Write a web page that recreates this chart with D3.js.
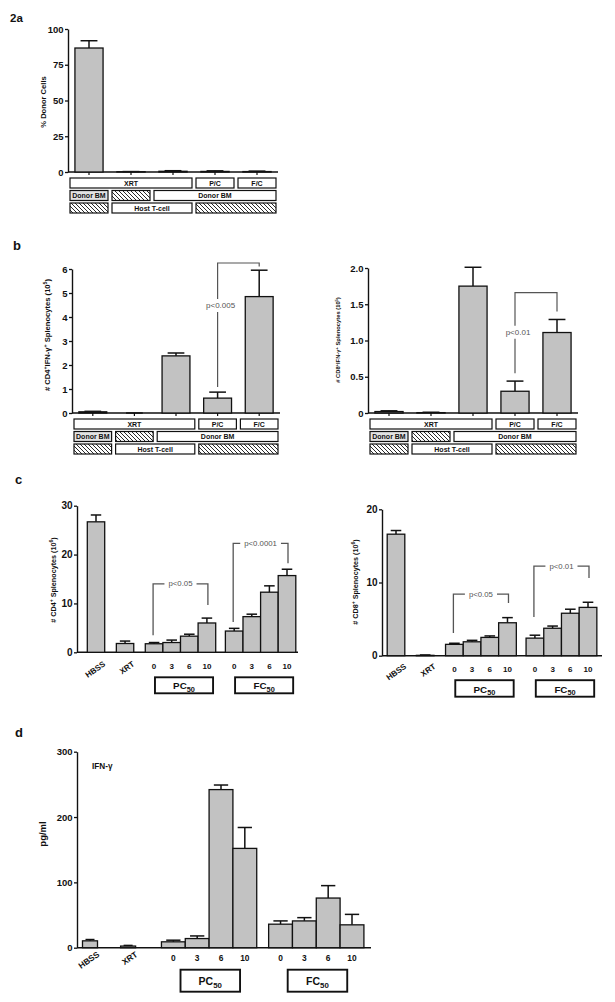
<!DOCTYPE html>
<html>
<head>
<meta charset="utf-8">
<script src="https://cdn.jsdelivr.net/npm/d3@7"></script>
<style>
  body { margin: 0; background: #fff; }
  svg text { font-family: "Liberation Sans", Arial, Helvetica, sans-serif; }
</style>
</head>
<body>
<svg width="615" height="1002"></svg>
<script>
// ---- data ----

// panel 2a : % donor cells
const aDonor = [86.7, 0.2, 0.5, 0.4, 0.3];
const aDonorErr = [91.8, 0.3, 0.9, 0.8, 0.6];
const aTicks = [0, 25, 50, 75, 100];

// panel b : IFN-g+ splenocytes (10^5)
const bCD4 = [0.05, 0, 2.38, 0.62, 4.85];
const bCD4Err = [0.07, 0, 2.5, 0.87, 5.95];
const bCD4Ticks = [0, 1, 2, 3, 4, 5, 6];
const bCD8 = [0.02, 0.005, 1.75, 0.30, 1.11];
const bCD8Err = [0.03, 0.01, 2.01, 0.44, 1.29];
const bCD8Ticks = [0, 0.5, 1, 1.5, 2];

// treatment label rows under a / b : [first group, last group, text, kind]
const rowTreat = [[0, 2, "XRT", "box"], [3, 3, "P/C", "box"], [4, 4, "F/C", "box"]];
const rowMarrow = [[0, 0, "Donor BM", "grey"], [1, 1, "", "hatch"], [2, 4, "Donor BM", "box"]];
const rowTcell = [[0, 0, "", "hatch"], [1, 2, "Host T-cell", "box"], [3, 4, "", "hatch"]];

// p-value brackets for b (values in axis units)
const bCD4Bracket = { from: 3, to: 4, top: 6.25, leftEnd: 1.08, rightEnd: 6.1, label: "p<0.005", labelAt: 4.5 };
const bCD8Bracket = { from: 3, to: 4, top: 1.66, leftEnd: 0.55, rightEnd: 1.40, label: "p<0.01", labelAt: 1.12 };

// panels c / d categories
const cdLabels = ["HBSS", "XRT", "0", "3", "6", "10", "0", "3", "6", "10"];
const cdGroups = ["HBSS", "XRT", "PC", "PC", "PC", "PC", "FC", "FC", "FC", "FC"];
const cdBoxes = [["PC", "50"], ["FC", "50"]];

// panel c : splenocytes (10^6)
const cCD4 = [26.7, 1.8, 1.75, 2.0, 3.3, 6.0, 4.35, 7.3, 12.3, 15.7];
const cCD4Err = [28.1, 2.3, 2.0, 2.5, 3.7, 7.0, 4.9, 7.8, 13.6, 17.0];
const cCD4Ticks = [0, 10, 20, 30];
const cCD8 = [16.6, 0.05, 1.55, 1.9, 2.5, 4.5, 2.4, 3.75, 5.8, 6.6];
const cCD8Err = [17.1, 0.1, 1.7, 2.1, 2.7, 5.2, 2.8, 4.05, 6.35, 7.3];
const cCD8Ticks = [0, 10, 20];
const cCD4Brackets = [
  { from: 2, to: 5, top: 14.0, leftEnd: 3.5, rightEnd: 9.7, label: "p<0.05" },
  { from: 6, to: 9, top: 22.3, leftEnd: 6.2, rightEnd: 18.2, label: "p<0.0001" }
];
const cCD8Brackets = [
  { from: 2, to: 5, top: 8.4, leftEnd: 3.1, rightEnd: 7.2, label: "p<0.05" },
  { from: 6, to: 9, top: 12.25, leftEnd: 5.3, rightEnd: 10.6, label: "p<0.01" }
];

// panel d : IFN-g pg/ml
const dIFN = [10.5, 2.5, 9, 14, 242, 152, 36, 41, 76, 35];
const dIFNErr = [12.5, 3.5, 11.5, 18, 249, 184, 41, 46, 95, 51];
const dTicks = [0, 100, 200, 300];

// ---- drawing ----
const svg = d3.select("svg");
const ink = "#111";
const barFill = "#c2c2c2";

// hatch pattern for the "none" boxes
svg.append("defs").append("pattern")
  .attr("id", "hatch").attr("patternUnits", "userSpaceOnUse")
  .attr("width", 4).attr("height", 4)
  .append("path")
  .attr("d", "M0,0 L4,4 M-1,3 L1,5 M3,-1 L5,1")
  .attr("stroke", ink).attr("stroke-width", 0.9);

function panelLetter(x, y, t, fs) {
  svg.append("text").attr("x", x).attr("y", y).attr("font-size", fs)
    .attr("font-weight", "bold").attr("fill", ink).text(t);
}

function yAxis(y, ticks, fmt, x0, x1, fs) {
  const g = svg.append("g").attr("transform", `translate(${x0},0)`)
    .call(d3.axisLeft(y).tickValues(ticks).tickFormat(fmt).tickSize(3).tickSizeOuter(0).tickPadding(1.5));
  g.attr("font-family", null).attr("font-size", null);
  g.select(".domain").attr("stroke", ink).attr("stroke-width", 1.4);
  g.selectAll(".tick line").attr("stroke", ink).attr("stroke-width", 1.3);
  g.selectAll(".tick text").attr("font-size", fs).attr("font-weight", "bold").attr("fill", ink);
  svg.append("line").attr("x1", x0).attr("x2", x1)
    .attr("y1", y(0)).attr("y2", y(0))
    .attr("stroke", ink).attr("stroke-width", 1.4);
}

// superscripts done with dy shifts
function yTitle(x, y, parts, fs) {
  const t = svg.append("text")
    .attr("transform", `translate(${x},${y}) rotate(-90)`)
    .attr("text-anchor", "middle").attr("font-size", fs)
    .attr("font-weight", "bold").attr("fill", ink);
  let up = false;
  parts.forEach(p => {
    const s = t.append("tspan").text(p[0]);
    if (p[1] && !up) { s.attr("dy", -fs * 0.4).attr("font-size", fs * 0.7); up = true; }
    else if (p[1]) { s.attr("font-size", fs * 0.7); }
    else if (up) { s.attr("dy", fs * 0.4); up = false; }
  });
}

function drawBars(cx, w, y, vals, errs) {
  const data = vals.map((v, i) => ({ v: v, e: errs[i], x: cx(i), w: w(i) }));
  const g = svg.append("g");
  g.selectAll("line.err").data(data).enter().append("line")
    .attr("x1", d => d.x).attr("x2", d => d.x)
    .attr("y1", d => y(d.v)).attr("y2", d => y(d.e))
    .attr("stroke", ink).attr("stroke-width", 1.5);
  g.selectAll("line.cap").data(data).enter().append("line")
    .attr("x1", d => d.x - d.w * 0.3).attr("x2", d => d.x + d.w * 0.3)
    .attr("y1", d => y(d.e)).attr("y2", d => y(d.e))
    .attr("stroke", ink).attr("stroke-width", 1.5);
  g.selectAll("rect").data(data).enter().append("rect")
    .attr("x", d => d.x - d.w / 2).attr("width", d => d.w)
    .attr("y", d => y(d.v)).attr("height", d => y(0) - y(d.v))
    .attr("fill", barFill).attr("stroke", ink).attr("stroke-width", 1.3);
}

// panels a and b share the 5-group layout and treatment rows
function groupPanel(cfg) {
  const x = d3.scaleBand().domain(d3.range(cfg.values.length))
    .range(cfg.xr).paddingInner(0.33).paddingOuter(0.165);
  const y = d3.scaleLinear().domain(cfg.yd).range(cfg.yr);
  yAxis(y, cfg.ticks, cfg.fmt, cfg.xr[0], cfg.xr[1], 9.5);
  drawBars(i => x(i) + x.bandwidth() / 2, () => x.bandwidth(), y, cfg.values, cfg.errs);

  // little ticks under the axis
  svg.append("g").selectAll("line").data(d3.range(cfg.values.length)).enter().append("line")
    .attr("x1", i => x(i) + x.bandwidth() / 2).attr("x2", i => x(i) + x.bandwidth() / 2)
    .attr("y1", y(0)).attr("y2", y(0) + 3)
    .attr("stroke", ink).attr("stroke-width", 1.2);

  const step = x.step(), x0 = cfg.xr[0];
  [rowTreat, rowMarrow, rowTcell].forEach((row, r) => {
    const top = y(0) + 6 + r * 12.5;
    row.forEach(([s, e, label, kind]) => {
      const bx = x0 + s * step + 2, bw = (e - s + 1) * step - 4;
      svg.append("rect").attr("x", bx).attr("y", top).attr("width", bw).attr("height", 10)
        .attr("fill", kind === "hatch" ? "url(#hatch)" : kind === "grey" ? "#e2e2e2" : "#fff")
        .attr("stroke", ink).attr("stroke-width", 1.2);
      if (label) {
        svg.append("text").attr("x", bx + bw / 2).attr("y", top + 7.7)
          .attr("text-anchor", "middle").attr("font-size", 7).attr("font-weight", "bold")
          .attr("fill", ink).text(label);
      }
    });
  });

  if (cfg.bracket) {
    const b = cfg.bracket;
    const xl = x(b.from) + x.bandwidth() / 2, xr = x(b.to) + x.bandwidth() / 2;
    const ty = y(b.top), ly = y(b.labelAt);
    const path = `M${xl},${ly + 7}V${y(b.leftEnd)} M${xl},${ly - 6}V${ty}H${xr}V${y(b.rightEnd)}`;
    svg.append("path").attr("d", path).attr("fill", "none")
      .attr("stroke", "#555").attr("stroke-width", 1.2);
    svg.append("text").attr("x", xl + 3).attr("y", ly + 3).attr("text-anchor", "middle")
      .attr("font-size", 8).attr("fill", "#555").text(b.label);
  }
}

function cdPanel(cfg) {
  // slot positions: 1 apart inside a group, cfg.gaps between groups
  const slots = [];
  let s = 0, gi = 0;
  cdGroups.forEach((g, i) => {
    if (i > 0) s += (g === cdGroups[i - 1]) ? 1 : cfg.gaps[gi++];
    slots.push(s);
  });
  const x = d3.scaleLinear().domain([0, slots[slots.length - 1]]).range(cfg.xr);
  const slotW = x(1) - x(0);
  const y = d3.scaleLinear().domain(cfg.yd).range(cfg.yr);
  yAxis(y, cfg.ticks, d3.format("d"), cfg.axisX[0], cfg.axisX[1], cfg.tickFs);
  drawBars(i => x(slots[i]), i => (cdGroups[i].length > 2 ? cfg.singleW : slotW),
    y, cfg.values, cfg.errs);

  const y0 = y(0);
  cdLabels.forEach((lab, i) => {
    const cx = x(slots[i]);
    if (cdGroups[i].length > 2) {
      svg.append("text")
        .attr("transform", `translate(${cx + cfg.rot[0]},${y0 + cfg.rot[1]}) rotate(-35)`)
        .attr("text-anchor", "end").attr("font-size", cfg.labFs).attr("font-weight", "bold")
        .attr("fill", ink).text(lab);
    } else {
      svg.append("text").attr("x", cx).attr("y", y0 + cfg.numDy)
        .attr("text-anchor", "middle").attr("font-size", cfg.labFs).attr("font-weight", "bold")
        .attr("fill", ink).text(lab);
    }
  });

  cdBoxes.forEach(([name, sub]) => {
    const idx = cdGroups.map((g, i) => g === name ? i : -1).filter(i => i >= 0);
    const bx0 = x(slots[idx[0]] + cfg.boxIn[0]), bx1 = x(slots[idx[idx.length - 1]] + cfg.boxIn[1]);
    svg.append("rect").attr("x", bx0).attr("y", y0 + cfg.box[0])
      .attr("width", bx1 - bx0).attr("height", cfg.box[1])
      .attr("fill", "#fff").attr("stroke", ink).attr("stroke-width", 1.9);
    const t = svg.append("text").attr("x", (bx0 + bx1) / 2).attr("y", y0 + cfg.box[0] + cfg.box[2])
      .attr("text-anchor", "middle").attr("font-size", cfg.boxFs).attr("font-weight", "bold").attr("fill", ink);
    t.append("tspan").text(name);
    t.append("tspan").attr("dy", cfg.boxFs * 0.3).attr("font-size", cfg.boxFs * 0.75).text(sub);
  });

  (cfg.brackets || []).forEach(b => {
    const xl = x(slots[b.from]) - 1, xr = x(slots[b.to]) + 1, ty = y(b.top);
    const t = svg.append("text").attr("x", (xl + xr) / 2).attr("y", ty + 2.5)
      .attr("text-anchor", "middle").attr("font-size", 7.8).attr("fill", "#555").text(b.label);
    const half = t.node().getComputedTextLength() / 2 + 4;
    const mid = (xl + xr) / 2;
    svg.append("path")
      .attr("d", `M${xl},${y(b.leftEnd)}V${ty}H${mid - half} M${mid + half},${ty}H${xr}V${y(b.rightEnd)}`)
      .attr("fill", "none").attr("stroke", "#555").attr("stroke-width", 1.3);
  });
  return { x, y };
}

// ---- panel 2a ----
panelLetter(10, 22, "2a", 11.5);
groupPanel({ values: aDonor, errs: aDonorErr, xr: [68, 278], yd: [0, 100], yr: [172, 29],
  ticks: aTicks, fmt: d3.format("d") });
yTitle(46, 102, [["% Donor Cells"]], 7.6);

// ---- panel b ----
panelLetter(13, 250, "b", 13);
groupPanel({ values: bCD4, errs: bCD4Err, xr: [72, 280], yd: [0, 6], yr: [413, 269],
  ticks: bCD4Ticks, fmt: d3.format("d"), bracket: bCD4Bracket });
yTitle(50, 335, [["# CD4"], ["+", 1], ["IFN-\u03b3"], ["+", 1], [" Splenocytes (10"], ["5", 1], [")"]], 7.6);
groupPanel({ values: bCD8, errs: bCD8Err, xr: [368, 578], yd: [0, 2], yr: [413, 268],
  ticks: bCD8Ticks, fmt: d => d === 0 ? "0" : d3.format(".1f")(d), bracket: bCD8Bracket });
yTitle(340, 340, [["# CD8"], ["+", 1], ["IFN-\u03b3"], ["+", 1], [" Splenocytes (10"], ["5", 1], [")"]], 5.8);

// ---- panel c ----
panelLetter(15, 484, "c", 13);
cdPanel({ values: cCD4, errs: cCD4Err, ticks: cCD4Ticks, xr: [96, 287], axisX: [77, 298],
  yd: [0, 30], yr: [652.3, 505.7], gaps: [1.65, 1.65, 1.55], singleW: 17.4, tickFs: 10,
  labFs: 8, rot: [10, 13], numDy: 16.5, box: [25, 16, 12], boxIn: [0.05, 0.35], boxFs: 9.8,
  brackets: cCD4Brackets });
yTitle(56, 580, [["# CD4"], ["+", 1], [" Splenocytes (10"], ["6", 1], [")"]], 7.2);
cdPanel({ values: cCD8, errs: cCD8Err, ticks: cCD8Ticks, xr: [396, 588], axisX: [382, 602],
  yd: [0, 20], yr: [655.7, 509.3], gaps: [1.65, 1.65, 1.55], singleW: 17.6, tickFs: 10,
  labFs: 8, rot: [11, 12], numDy: 16, box: [24.5, 16.5, 12.3], boxIn: [0.05, 0.35], boxFs: 9.8,
  brackets: cCD8Brackets });
yTitle(358, 582, [["# CD8"], ["+", 1], [" Splenocytes (10"], ["6", 1], [")"]], 7.2);

// ---- panel d ----
panelLetter(15, 737, "d", 13);
cdPanel({ values: dIFN, errs: dIFNErr, ticks: dTicks, xr: [90, 352], axisX: [77, 371],
  yd: [0, 300], yr: [947.7, 751.7], gaps: [1.6, 1.9, 1.5], singleW: 15, tickFs: 9.5,
  labFs: 8.4, rot: [10, 8], numDy: 13.5, box: [22, 22, 15], boxIn: [0.3, -0.2], boxFs: 10.5 });
yTitle(46, 834, [["pg/ml"]], 9.5);
svg.append("text").attr("x", 92).attr("y", 769).attr("font-size", 8.2)
  .attr("font-weight", "bold").attr("fill", ink).text("IFN-\u03b3");
</script>
</body>
</html>
